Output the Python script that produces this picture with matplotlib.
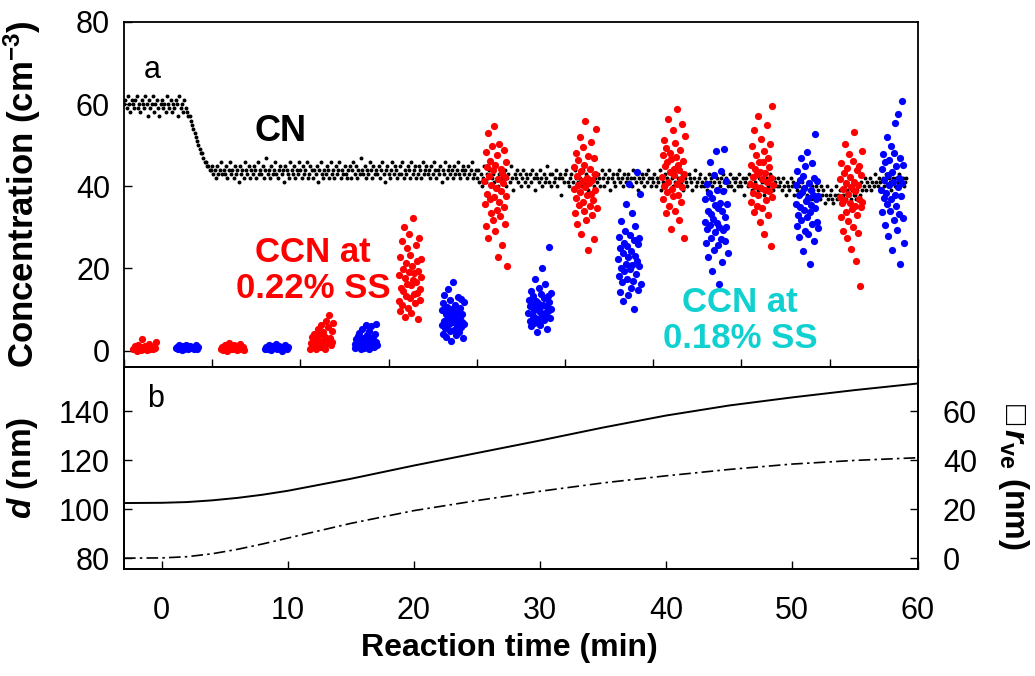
"""CN / CCN concentrations and particle growth vs reaction time."""

import numpy as np
import matplotlib
matplotlib.use("Agg")
import matplotlib.pyplot as plt

plt.rcParams["font.family"] = ["Liberation Sans", "DejaVu Sans"]
plt.rcParams["mathtext.fontset"] = "custom"
plt.rcParams["mathtext.rm"] = "Liberation Sans:bold"
plt.rcParams["mathtext.it"] = "Liberation Sans:bold:italic"
plt.rcParams["mathtext.bf"] = "Liberation Sans:bold"

# ---------------------------------------------------------------------------
# Data
# ---------------------------------------------------------------------------

# CN, one reading every 0.1 min starting at -3 min (20 readings per row)
cn_t0 = -3.0
cn_dt = 0.1
cn_values = [
    60, 61, 59, 62, 60, 58, 61, 60, 59, 61, 62, 59, 60, 58, 61, 60, 59, 62, 60, 57,
    61, 59, 60, 62, 58, 60, 61, 59, 57, 60, 61, 59, 60, 58, 62, 60, 59, 61, 58, 60,
    59, 61, 60, 57, 62, 59, 60, 58, 61, 59, 58, 57, 57, 56, 55, 54, 53, 52, 51, 50,
    49, 48, 48, 47, 46, 46, 45, 45, 44, 44, 45, 43, 44, 42, 45, 43, 44, 46, 43, 44,
    43, 45, 42, 44, 46, 43, 44, 42, 45, 43, 44, 41, 45, 43, 44, 42, 46, 44, 43, 45,
    42, 44, 43, 45, 44, 42, 46, 43, 44, 43, 45, 42, 44, 47, 43, 44, 42, 45, 43, 44,
    46, 43, 42, 44, 45, 43, 44, 41, 45, 44, 43, 42, 46, 44, 43, 45, 42, 44, 43, 46,
    44, 42, 45, 43, 44, 46, 42, 43, 45, 44, 42, 44, 43, 45, 41, 44, 46, 43, 42, 44,
    43, 45, 44, 42, 46, 43, 44, 42, 45, 43, 44, 46, 42, 44, 43, 45, 43, 42, 44, 45,
    42, 44, 46, 43, 45, 42, 44, 43, 47, 44, 43, 45, 42, 44, 43, 46, 44, 42, 45, 43,
    44, 43, 45, 42, 44, 46, 43, 41, 44, 45, 43, 42, 44, 46, 43, 45, 44, 42, 43, 45,
    43, 46, 42, 44, 43, 45, 44, 42, 46, 43, 44, 45, 42, 43, 45, 44, 42, 46, 43, 44,
    45, 43, 44, 42, 45, 43, 46, 44, 42, 44, 43, 45, 41, 44, 43, 46, 42, 44, 45, 43,
    44, 42, 45, 43, 44, 46, 43, 42, 44, 45, 43, 44, 42, 45, 43, 44, 46, 42, 43, 44,
    42, 44, 41, 43, 40, 42, 45, 41, 43, 42, 44, 40, 42, 43, 41, 45, 42, 40, 43, 42,
    41, 43, 44, 40, 42, 43, 41, 45, 42, 39, 43, 42, 44, 41, 43, 40, 42, 44, 41, 43,
    42, 40, 43, 41, 44, 42, 39, 43, 42, 41, 44, 42, 40, 43, 41, 42, 45, 41, 43, 40,
    43, 41, 42, 44, 40, 42, 43, 38, 42, 41, 43, 44, 41, 40, 42, 43, 41, 39, 44, 42,
    41, 43, 42, 40, 44, 41, 42, 43, 39, 42, 44, 41, 43, 40, 42, 41, 43, 42, 40, 44,
    42, 40, 43, 41, 42, 44, 39, 42, 43, 41, 40, 43, 42, 44, 41, 42, 40, 43, 41, 42,
    43, 41, 42, 40, 44, 42, 41, 43, 39, 42, 41, 43, 42, 40, 43, 41, 44, 42, 40, 42,
    41, 43, 40, 42, 41, 44, 39, 42, 41, 43, 40, 42, 41, 39, 43, 42, 40, 41, 44, 41,
    42, 40, 41, 43, 39, 42, 41, 40, 43, 42, 41, 39, 42, 44, 40, 41, 42, 43, 40, 41,
    40, 42, 41, 39, 43, 41, 42, 40, 41, 43, 39, 42, 41, 40, 42, 43, 41, 39, 42, 40,
    41, 43, 40, 42, 39, 41, 42, 40, 43, 41, 40, 42, 38, 41, 42, 40, 43, 41, 39, 42,
    40, 41, 43, 39, 42, 40, 41, 42, 38, 41, 42, 40, 41, 43, 40, 39, 42, 41, 40, 42,
    40, 41, 39, 42, 40, 38, 41, 40, 39, 42, 40, 41, 38, 40, 39, 41, 40, 38, 41, 39,
    39, 40, 38, 41, 39, 37, 40, 39, 38, 40, 38, 39, 37, 40, 38, 39, 36, 38, 40, 37,
    38, 39, 37, 36, 38, 40, 37, 38, 39, 36, 37, 38, 40, 37, 39, 38, 36, 37, 39, 38,
    38, 37, 39, 40, 38, 41, 39, 40, 42, 39, 41, 40, 42, 39, 41, 40, 43, 41, 40, 42,
    41, 39, 42, 40, 41, 43, 40, 42, 41, 39, 42, 41, 40, 42, 41, 43, 40, 41, 42, 40,
    41, 42,
]

# CCN at 0.22 % SS: centre time of each sampling window and the readings
ccn22_time = [-1.35, 5.6, 12.7, 19.7, 26.5, 33.6, 40.6, 47.6, 54.7]
ccn22_values = [
    [0.3, 1.1, 0.6, 0.0, 1.4, 0.8, 0.2, 2.8, 0.9, 0.5, 1.2, 0.1, 0.7, 1.6, 0.4,
     0.9, 0.3, 1.0, 0.6, 2.1],
    [0.4, 0.9, 0.2, 1.3, 0.6, 0.0, 1.1, 1.8, 0.5, 0.8, 0.3, 1.4, 0.7, 0.1, 1.0,
     0.6, 1.6, 0.4, 0.9, 0.2],
    [0.5, 1.8, 3.2, 0.9, 2.5, 4.1, 1.2, 0.3, 2.9, 5.2, 1.6, 3.7, 0.8, 2.2, 6.3,
     1.0, 4.6, 2.7, 0.4, 3.4, 7.1, 1.9, 5.8, 2.4, 8.6, 3.0, 1.4, 4.9, 2.0, 6.8],
    [12.1, 18.4, 9.6, 22.7, 15.3, 26.8, 11.2, 19.9, 14.5, 30.1, 8.3, 17.6, 21.4,
     13.2, 24.9, 16.1, 10.4, 28.5, 19.2, 12.8, 23.3, 15.9, 9.1, 20.6, 17.3, 32.4,
     13.7, 18.8, 11.6, 25.7, 16.6, 14.1, 21.9, 7.6, 19.5, 27.4, 15.0, 12.4, 22.2,
     17.9],
    [41.2, 35.6, 48.3, 30.4, 44.7, 38.1, 52.9, 27.3, 42.6, 36.8, 46.1, 33.5, 40.3,
     49.7, 31.8, 43.9, 37.4, 54.6, 29.1, 45.2, 39.6, 34.2, 47.5, 22.8, 41.8, 36.1,
     50.4, 32.7, 44.1, 38.9, 25.6, 43.3, 40.7, 35.0, 48.9, 30.9, 42.2, 37.7, 45.8,
     20.5],
    [39.4, 44.8, 33.6, 48.2, 37.1, 42.5, 30.9, 46.3, 40.2, 35.5, 52.1, 38.6, 43.7,
     28.4, 41.3, 36.2, 49.6, 34.0, 45.1, 39.9, 55.8, 31.7, 42.0, 37.8, 47.4, 24.6,
     40.8, 35.1, 44.2, 38.2, 50.7, 33.1, 41.6, 36.6, 46.9, 27.2, 43.0, 39.1, 53.9,
     34.8],
    [42.3, 47.6, 36.9, 51.2, 40.1, 44.9, 33.4, 49.3, 38.7, 45.8, 56.4, 41.0, 35.2,
     48.1, 43.5, 29.6, 46.7, 39.3, 53.8, 37.6, 44.1, 42.8, 50.5, 34.1, 47.2, 40.6,
     58.9, 38.0, 45.3, 31.7, 43.9, 48.8, 36.3, 41.7, 55.1, 39.8, 46.2, 27.4, 43.1,
     52.3],
    [40.6, 45.2, 36.1, 49.8, 42.3, 38.4, 53.6, 33.7, 44.1, 40.0, 47.5, 35.3, 42.9,
     57.0, 37.9, 46.0, 31.2, 43.6, 39.5, 51.4, 41.7, 34.6, 45.8, 28.3, 48.7, 39.1,
     43.2, 36.7, 55.0, 41.1, 46.9, 33.0, 44.6, 38.8, 50.2, 25.4, 42.0, 37.4, 59.6,
     40.3],
    [37.3, 41.8, 32.5, 45.6, 35.9, 39.4, 29.1, 43.2, 36.6, 50.3, 33.8, 40.7, 27.4,
     44.5, 38.1, 31.6, 47.9, 36.0, 42.3, 24.8, 39.9, 34.4, 46.1, 30.2, 41.1, 53.2,
     35.3, 38.8, 21.7, 43.9, 33.0, 40.2, 28.6, 45.0, 37.0, 15.8, 42.7, 34.9, 48.7,
     36.3],
]

# CCN at 0.18 % SS
ccn18_time = [2.0, 9.1, 16.2, 23.1, 30.0, 37.1, 44.0, 51.2, 58.0]
ccn18_values = [
    [0.6, 1.0, 0.4, 1.3, 0.8, 0.2, 1.1, 0.5, 0.9, 1.4, 0.3, 0.7, 1.2, 0.6, 1.0,
     0.4, 0.8, 1.3, 0.5, 0.9],
    [0.5, 1.0, 0.3, 1.4, 0.7, 0.2, 1.1, 0.6, 0.9, 1.6, 0.4, 0.8, 1.2, 0.5, 0.0,
     1.0, 0.7, 1.3, 0.3, 0.9],
    [0.6, 1.5, 2.8, 0.9, 3.6, 1.2, 4.4, 2.1, 0.4, 5.2, 1.8, 3.1, 0.7, 2.5, 6.3,
     1.0, 3.9, 2.3, 0.3, 4.8, 1.6, 5.9, 2.7, 1.1, 3.3, 0.8, 4.1, 2.0, 6.4, 1.4],
    [6.2, 9.8, 4.1, 11.5, 7.3, 13.6, 5.4, 8.9, 3.2, 10.7, 7.8, 15.1, 6.6, 9.2, 4.8,
     12.3, 8.1, 2.4, 10.1, 6.9, 16.8, 7.5, 5.0, 11.0, 8.6, 3.7, 9.5, 6.0, 13.0,
     7.1, 4.5, 10.4, 8.3, 5.8, 12.6, 7.0, 9.0, 3.0, 6.4, 11.8],
    [9.2, 12.4, 7.1, 10.8, 14.6, 5.9, 11.3, 8.5, 13.2, 6.8, 9.9, 17.4, 8.0, 12.0,
     10.3, 4.6, 11.7, 7.6, 15.3, 9.5, 6.2, 13.8, 10.9, 8.8, 20.1, 11.0, 7.4, 12.8,
     9.1, 16.2, 8.3, 10.6, 5.3, 13.4, 9.7, 25.2, 11.9, 7.9, 14.1, 10.1],
    [22.4, 18.1, 27.6, 14.3, 24.9, 20.2, 31.5, 16.7, 23.8, 12.1, 26.3, 19.4, 29.2,
     21.1, 35.8, 17.5, 25.4, 13.6, 22.9, 40.6, 19.9, 28.1, 15.2, 24.3, 20.8, 33.4,
     17.0, 26.9, 10.2, 23.1, 30.4, 18.6, 21.7, 43.5, 25.9, 14.8, 27.3, 20.5, 38.2,
     16.1],
    [31.4, 36.8, 26.2, 40.5, 29.7, 34.1, 22.8, 38.3, 30.6, 45.9, 27.5, 33.2, 19.4,
     37.1, 32.0, 42.7, 24.6, 35.4, 28.9, 48.6, 31.0, 39.2, 25.8, 34.7, 16.3, 30.2,
     36.0, 43.8, 27.1, 33.9, 21.5, 38.9, 29.3, 49.2, 32.6, 26.8, 41.4, 30.0, 35.8,
     23.7],
    [35.8, 40.2, 30.4, 43.7, 33.1, 37.9, 27.6, 41.5, 35.0, 46.8, 31.9, 38.6, 24.2,
     42.4, 34.3, 39.5, 29.0, 44.9, 36.4, 32.6, 48.3, 37.2, 28.5, 40.9, 33.8, 21.0,
     39.1, 35.4, 45.6, 30.9, 38.0, 26.7, 42.0, 34.8, 52.7, 36.9, 31.3, 41.2, 29.8,
     37.6],
    [39.1, 44.3, 33.7, 47.8, 37.2, 41.6, 30.5, 45.9, 38.4, 52.1, 35.6, 42.8, 27.9,
     46.4, 40.3, 34.1, 49.7, 36.8, 43.5, 24.6, 41.0, 31.8, 48.2, 38.0, 55.3, 35.1,
     44.9, 29.4, 39.8, 57.6, 33.3, 42.1, 21.2, 46.9, 37.6, 40.7, 60.8, 32.4, 45.3,
     26.1],
]

# Panel b: mobility diameter and volume-equivalent radius change
growth_time = [-3, 0, 2, 4, 6, 8, 10, 15, 20, 25, 30, 35, 40, 45, 50, 55, 60]
d_nm = [102.5, 102.6, 102.9, 103.6, 104.6, 105.9, 107.5, 112.4, 117.8, 122.9,
        128.0, 133.3, 138.2, 142.3, 145.6, 148.6, 151.3]
dr_ve_nm = [0.0, 0.1, 0.6, 1.8, 3.6, 5.8, 8.2, 14.2, 19.4, 23.5, 27.3, 30.7,
            33.6, 36.2, 38.4, 39.9, 41.0]

# ---------------------------------------------------------------------------
# Figure
# ---------------------------------------------------------------------------

fig = plt.figure(figsize=(10.35, 6.76), dpi=100)
ax_a = fig.add_axes([0.1198, 0.457, 0.767, 0.5105])
ax_b = fig.add_axes([0.1198, 0.158, 0.767, 0.299])
ax_r = ax_b.twinx()

TICK = 22
XLIM = (-3, 60)

# --- panel a
cn_time = cn_t0 + cn_dt * np.arange(len(cn_values))
ax_a.scatter(cn_time, cn_values, s=8, color="black", lw=0, zorder=2)


def _plot_cluster(ax, centre, vals, color):
    x = centre + np.linspace(-0.9, 0.9, len(vals))
    ax.scatter(x, vals, s=27, color=color, lw=0, zorder=3)


for t, v in zip(ccn22_time, ccn22_values):
    _plot_cluster(ax_a, t, v, "#ff0000")
for t, v in zip(ccn18_time, ccn18_values):
    _plot_cluster(ax_a, t, v, "#0000ff")

ax_a.set_xlim(*XLIM)
ax_a.set_ylim(-4, 80)
ax_a.set_xticks(np.arange(-3, 61, 7))
ax_a.set_xticklabels([])
ax_a.set_yticks([0, 20, 40, 60, 80])
ax_a.tick_params(direction="in", length=6, width=1, labelsize=TICK, pad=10)
ax_a.set_ylabel("Concentration (cm$^{-3}$)", fontsize=25, fontweight="bold",
                va="center")
ax_a.yaxis.set_label_coords(-0.128, 0.5)
ax_a.text(0.035, 0.86, "a", transform=ax_a.transAxes, fontsize=TICK,
          ha="center", va="center")
ax_a.text(9.4, 53.4, "CN", fontsize=26, fontweight="bold", ha="center",
          va="center")
ax_a.text(12.0, 19.5, "CCN at\n0.22% SS", fontsize=25, fontweight="bold",
          color="#ff0000", ha="center", va="center", linespacing=1.1)
ax_a.text(45.9, 7.3, "CCN at\n0.18% SS", fontsize=25, fontweight="bold",
          color="#10d0d0", ha="center", va="center", linespacing=1.1)

# --- panel b
ax_b.plot(growth_time, d_nm, color="black", lw=1.4)
ax_r.plot(growth_time, dr_ve_nm, color="black", lw=1.2,
          dashes=[7, 2.5, 1.5, 2.5])

ax_b.set_xlim(*XLIM)
ax_b.set_ylim(75.5, 158)
ax_r.set_ylim(-4.5, 78)
ax_b.set_xticks(np.arange(0, 61, 10))
ax_b.set_yticks([80, 100, 120, 140])
ax_r.set_yticks([0, 20, 40, 60])
ax_b.tick_params(axis="x", direction="in", length=6, width=1,
                 labelsize=TICK, pad=19)
ax_b.tick_params(axis="y", direction="in", length=6, width=1,
                 labelsize=TICK, pad=10)
ax_r.tick_params(direction="in", length=6, width=1, labelsize=TICK, pad=18)
ax_b.set_xlabel("Reaction time (min)", fontsize=23, fontweight="bold",
                va="center")
ax_b.xaxis.set_label_coords(0.486, -0.39)
ax_b.set_ylabel(r"$\mathit{d}$ (nm)", fontsize=24, fontweight="bold",
                va="center")
ax_b.yaxis.set_label_coords(-0.128, 0.5)
ax_r.set_ylabel("\u25a1" + r"$\,\mathit{r}_{\mathrm{ve}}$ (nm)", fontsize=24,
                fontweight="bold", rotation=270, va="center")
ax_r.yaxis.set_label_coords(1.12, 0.46)
ax_b.text(0.04, 0.84, "b", transform=ax_b.transAxes, fontsize=TICK,
          ha="center", va="center")

for ax in (ax_a, ax_b, ax_r):
    for sp in ax.spines.values():
        sp.set_linewidth(1.3)

fig.savefig("out.png", dpi=100)
